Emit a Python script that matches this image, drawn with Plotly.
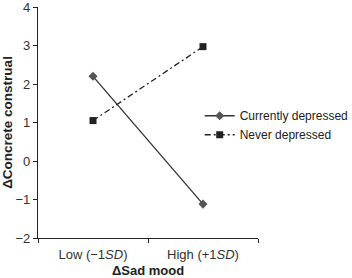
import plotly.graph_objects as go

categories = ["Low (−1<i>SD</i>)", "High (+1<i>SD</i>)"]
currently_depressed = [2.2, -1.12]
never_depressed = [1.05, 2.97]
y_ticks = [-2, -1, 0, 1, 2, 3, 4]

FONT = "Liberation Sans, Arial, sans-serif"

fig = go.Figure()
fig.add_trace(go.Scatter(
    x=categories, y=currently_depressed, name="Currently depressed",
    mode="lines+markers",
    line=dict(color="#333333", width=1.3),
    marker=dict(symbol="diamond", size=7, color="#555555"),
))
fig.add_trace(go.Scatter(
    x=categories, y=never_depressed, name="Never depressed",
    mode="lines+markers",
    line=dict(color="#222222", width=1.3, dash="6px,3px,2px,3px"),
    marker=dict(symbol="square", size=7, color="#222222"),
))

fig.update_layout(
    width=352, height=278,
    margin=dict(l=38, r=94, t=7, b=40, autoexpand=False),
    plot_bgcolor="white", paper_bgcolor="white",
    font=dict(family=FONT, size=13, color="#333333"),
    showlegend=True,
    legend=dict(x=0.735, y=0.592, xanchor="left", yanchor="top",
                font=dict(size=12, color="#222222"),
                bgcolor="rgba(0,0,0,0)", tracegroupgap=0,
                itemwidth=30),
    xaxis=dict(
        type="category", range=[-0.5, 1.5], tickson="boundaries",
        showline=True, linecolor="#222222", linewidth=1.2,
        ticks="outside", ticklen=4, tickcolor="#222222",
        ticklabelstandoff=4,
        showgrid=False, zeroline=False, automargin=False,
        title=dict(text="<b>ΔSad mood</b>", standoff=7,
                   font=dict(size=13, color="#222222")),
    ),
    yaxis=dict(
        range=[-2, 4], tickvals=y_ticks, ticklabeloverflow="allow",
        showline=True, linecolor="#222222", linewidth=1.2,
        ticks="outside", ticklen=4, tickcolor="#222222",
        showgrid=False, zeroline=False, automargin=False,
        title=dict(text="<b>ΔConcrete construal</b>", standoff=0,
                   font=dict(size=13.5, color="#222222")),
    ),
)

fig.write_html("out.html", config={"displayModeBar": False},
               post_script="document.body.style.margin='0';document.body.style.overflow='hidden';")
